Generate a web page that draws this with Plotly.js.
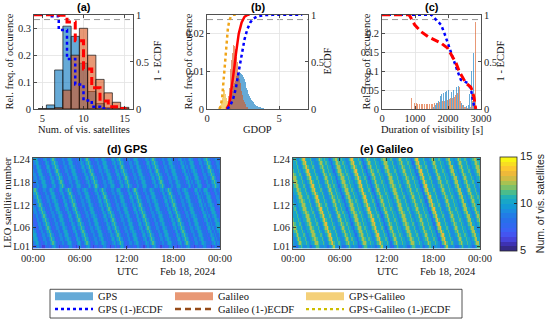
<!DOCTYPE html>
<html><head><meta charset="utf-8">
<script src="https://cdn.plot.ly/plotly-3.0.1.min.js"></script>
<style>html,body{margin:0;padding:0;background:#fff;} #chart{width:550px;height:324px;}</style>
</head><body><div id="chart"></div>
<script>
// ---------------- DATA ----------------
// (a) number of visible satellites
const nVisSat = [5,6,7,8,9,10,11,12,13,14,15];
const nVisGps = [0,0.015,0.145,0.308,0.27,0.17,0.065,0.02,0.005,0.002,0];
const nVisGal = [0,0,0.005,0.07,0.2,0.3,0.2,0.11,0.06,0.025,0.006];
const nVisEcdfGpsX = [4,6,7,8,9,10,11,12,13];
const nVisEcdfGpsY = [1,0.985,0.84,0.53,0.26,0.09,0.025,0.005,0];
const nVisEcdfGalX = [4,7,8,9,10,11,12,13,14,15];
const nVisEcdfGalY = [1,0.995,0.925,0.725,0.425,0.225,0.085,0.025,0.005,0];

// (b) GDOP
const gdopBins = [0.85,0.9,0.95,1,1.05,1.1,1.15,1.2,1.25,1.3,
  1.35,1.4,1.45,1.5,1.55,1.6,1.65,1.7,1.75,1.8,
  1.85,1.9,1.95,2,2.05,2.1,2.15,2.2,2.25,2.3,
  2.35,2.4,2.45,2.5,2.55,2.6,2.65,2.7,2.75,2.8,
  2.85,2.9,2.95,3,3.05,3.1,3.15,3.2,3.25,3.3,
  3.35,3.4,3.45,3.5,3.55,3.6,3.65,3.7,3.75,3.8,
  3.85,3.9,3.95,4,4.05,4.1,4.15,4.2,4.25,4.3,
  4.35,4.4,4.45,4.5];
const gdopGps = [0,0,0,0,0,0,0,0,0,0,
  0,0.0003,0.0006,0.001,0.0015,0.002,0.003,0.004,0.0048,0.0055,
  0.0062,0.007,0.0074,0.008,0.0087,0.0089,0.0093,0.0096,0.0099,0.0096,
  0.0095,0.0093,0.0091,0.009,0.0084,0.008,0.0071,0.0066,0.0057,0.005,
  0.0046,0.004,0.0034,0.003,0.0027,0.0024,0.002,0.0018,0.0015,0.0013,
  0.0011,0.001,0.0008,0.0007,0.0006,0.0005,0.0004,0.0004,0.0003,0.0003,
  0.0002,0.0002,0.0001,0.0001,0.0001,0.0001,0.0001,0.0001,0.0001,0.0001,
  0.0001,0.0001,0,0];
const gdopGal = [0,0,0,0,0,0,0,0,0,0,
  0.0003,0.001,0.002,0.0035,0.0055,0.008,0.0105,0.013,0.015,0.0165,
  0.017,0.0168,0.016,0.015,0.0138,0.0125,0.011,0.0095,0.008,0.0068,
  0.0057,0.0047,0.0038,0.003,0.0024,0.0018,0.0013,0.0009,0.0006,0.0004,
  0.0002,0.0001,0,0,0,0,0,0,0,0,
  0,0,0,0,0,0,0,0,0,0,
  0,0,0,0,0,0,0,0,0,0,
  0,0,0,0];
const gdopAll = [0,0.0005,0.001,0.002,0.003,0.004,0.005,0.005,0.0045,0.004,
  0.003,0.002,0.0015,0.001,0.0007,0.0004,0.0002,0.0001,0,0,
  0,0,0,0,0,0,0,0,0,0,
  0,0,0,0,0,0,0,0,0,0,
  0,0,0,0,0,0,0,0,0,0,
  0,0,0,0,0,0,0,0,0,0,
  0,0,0,0,0,0,0,0,0,0,
  0,0,0,0];
const gdopEcdfGpsX = [1.4,1.6,1.8,2.0,2.2,2.4,2.6,2.8,3.0,3.2,3.5,4.0,4.5,6.6];
const gdopEcdfGpsY = [0,0.03,0.1,0.22,0.4,0.58,0.74,0.85,0.92,0.96,0.985,0.998,1,1];
const gdopEcdfGalX = [1.35,1.5,1.6,1.7,1.8,1.9,2.0,2.1,2.2,2.4,2.6,2.8,2.95];
const gdopEcdfGalY = [0,0.04,0.1,0.2,0.32,0.45,0.58,0.7,0.8,0.92,0.98,1,1];
const gdopEcdfAllX = [0.85,0.95,1.05,1.15,1.25,1.35,1.45,1.55,1.65,1.8,2.1];
const gdopEcdfAllY = [0,0.03,0.12,0.3,0.52,0.72,0.86,0.94,0.98,1,1];

// (c) duration of visibility [s]
const durBins = [900,950,1000,1050,1100,1150,1200,1250,1300,1350,
  1400,1450,1500,1550,1600,1650,1700,1750,1800,1850,
  1900,1950,2000,2050,2100,2150,2200,2250,2300,2350,
  2400,2450,2500,2550,2600,2650,2700,2750,2800,2850];
const durGal = [0.028,0.027,0.016,0.015,0.014,0.014,0.013,0.013,0.013,0.013,
  0.013,0.013,0.014,0.014,0.015,0.016,0.017,0.018,0.019,0.02,
  0.021,0.022,0.024,0.026,0.028,0.03,0.033,0.037,0.042,0.058,
  0.02,0.01,0.006,0.004,0.003,0.003,0.004,0.02,0.06,0.232];
const durGps = [0,0,0,0,0,0,0,0,0,0,
  0,0,0.003,0.006,0.01,0.015,0.022,0.035,0.04,0.042,
  0.045,0.048,0.05,0.046,0.044,0.05,0.055,0.058,0.06,0.045,
  0.015,0.01,0.008,0.007,0.01,0.04,0.1,0.148,0.03,0];
const durEcdfGpsX = [0,1500,1640,1790,1890,1990,2090,2190,2290,2390,2490,2590,2690,2740,2790,2840];
const durEcdfGpsY = [1,1,0.947,0.894,0.806,0.70,0.61,0.505,0.40,0.31,0.29,0.276,0.22,0.13,0.03,0];
const durEcdfGalX = [0,800,840,990,1190,1390,1590,1790,1990,2140,2240,2340,2440,2540,2690,2740,2790,2820,2840];
const durEcdfGalY = [1,1,0.99,0.894,0.82,0.77,0.735,0.70,0.646,0.558,0.49,0.40,0.33,0.276,0.233,0.19,0.117,0.064,0];

// (d),(e) number of visible satellites per LEO satellite over the day (10-min steps)
const satNum = [1,2,3,4,5,6,7,8,9,10,11,12,13,14,15,16,17,18,19,20,21,22,23,24];
const satTickVals = [1,6,12,18,24];
const satTickText = ['L01','L06','L12','L18','L24'];
const timeTickVals = [0,6,12,18,24];
const timeTickText = ['00:00','06:00','12:00','18:00','00:00'];
const gpsBaseRow = [
  8,8,9,10,10,9,8,7,7,8,9,9,
  8,8,9,10,11,10,9,8,7,8,8,9,
  9,8,8,9,10,10,9,8,8,7,8,9,
  10,9,8,8,9,10,11,10,9,8,7,8,
  8,9,9,8,8,9,10,10,9,8,8,7,
  8,8,9,10,9,8,9,10,11,10,9,8,
  7,8,8,9,9,8,8,9,10,10,9,8,
  8,7,8,9,10,9,8,9,10,11,10,9,
  8,8,7,8,9,9,8,8,9,10,10,9,
  8,8,8,7,8,9,10,9,8,9,10,11,
  10,9,8,8,7,8,9,9,8,8,9,10,
  10,9,8,8,8,7,8,9,10,9,8,9];
const galBaseRow = [
  10,10,9,9,10,11,12,11,10,10,10,11,
  10,9,9,10,10,11,12,12,11,10,10,10,
  11,10,9,9,10,11,12,13,11,10,10,10,
  11,10,9,9,9,10,11,12,11,10,10,11,
  10,10,9,8,9,10,11,12,12,11,10,10,
  11,10,10,9,9,10,11,12,13,11,10,10,
  10,11,10,9,8,9,10,11,12,11,10,10,
  10,11,10,10,9,9,10,11,12,12,11,10,
  10,10,11,10,9,9,10,10,11,12,11,10,
  10,10,11,10,10,9,8,9,11,12,13,11,
  10,10,10,11,10,9,9,9,10,11,12,11,
  10,10,10,11,10,10,9,9,10,11,12,12];
const gpsSatShift = [0,1,2,3,4,5,6,7,8,9,10,11,12,13,14,15,20,21,22,23,24,25,26,27];
const galSatShift = [0,1,2,3,4,5,6,7,8,9,10,11,12,13,14,15,16,17,18,19,20,21,22,23];
const gpsSatBias = [-1,0,0,0,0,0,0,0,0,0,0,0,0,0,0,0,0,0,0,0,0,0,0,0];
const galSatBias = [-1,0,0,0,0,0,0,0,0,0,0,0,0,0,0,0,0,0,0,0,0,0,0,0];

// ---------------- STYLE ----------------
const W = 550, H = 324;
const px = v => v / W;
const py = v => 1 - v / H;
const ink = 'rgb(38,38,38)';
const serif = 'Liberation Serif';
const sans = 'Liberation Sans';
const cGps = 'rgba(0,114,189,0.6)', cGal = 'rgba(217,83,25,0.6)', cAll = 'rgba(237,177,32,0.6)';
const parulaBands = ['rgb(53,42,135)','rgb(62,50,178)','rgb(70,68,218)','rgb(68,85,240)','rgb(58,98,245)',
  'rgb(48,105,240)','rgb(40,112,234)','rgb(34,124,230)','rgb(28,140,224)','rgb(20,154,214)',
  'rgb(24,166,200)','rgb(36,177,180)','rgb(75,188,140)','rgb(125,192,105)','rgb(168,194,82)',
  'rgb(208,188,68)','rgb(238,185,58)','rgb(252,200,48)','rgb(248,222,35)','rgb(249,246,20)'];
const colorscale = [];
parulaBands.forEach((c, k) => { colorscale.push([k / 20, c]); colorscale.push([(k + 1) / 20, c]); });

function buildRows(base, shifts, bias) {
  return shifts.map((o, s) => base.map((_, t) => base[(t + o) % base.length] + bias[s]));
}
const zGps = buildRows(gpsBaseRow, gpsSatShift, gpsSatBias);
const zGal = buildRows(galBaseRow, galSatShift, galSatBias);

const axBase = {showline:true, linecolor:ink, linewidth:0.8, ticks:'inside', ticklen:3, tickcolor:ink, tickwidth:0.8,
  tickfont:{family:serif, size:10.5, color:ink}, zeroline:false, showgrid:true, gridcolor:'rgb(226,226,226)', gridwidth:0.8, fixedrange:true};
const ax = o => Object.assign({}, axBase, o);

const topY = [py(110), py(15)];
const hmY = [py(251), py(159)];

// ---------------- TRACES ----------------
const traces = [
  {type:'bar', x:nVisSat, y:nVisGps, xaxis:'x', yaxis:'y', width:1, marker:{color:cGps, line:{color:'rgb(20,20,20)', width:0.7}}, showlegend:false},
  {type:'bar', x:nVisSat, y:nVisGal, xaxis:'x', yaxis:'y', width:1, marker:{color:cGal, line:{color:'rgb(20,20,20)', width:0.7}}, showlegend:false},
  {type:'scatter', mode:'lines', x:nVisEcdfGpsX, y:nVisEcdfGpsY, xaxis:'x', yaxis:'y2', line:{color:'rgb(0,0,255)', width:2.5, dash:'dot', shape:'hv'}, showlegend:false},
  {type:'scatter', mode:'lines', x:nVisEcdfGalX, y:nVisEcdfGalY, xaxis:'x', yaxis:'y2', line:{color:'rgb(255,0,0)', width:3, dash:'8px,4px', shape:'hv'}, showlegend:false},

  {type:'bar', x:gdopBins, y:gdopAll, xaxis:'x2', yaxis:'y3', width:0.05, marker:{color:cAll, line:{width:0}}, showlegend:false},
  {type:'bar', x:gdopBins, y:gdopGps, xaxis:'x2', yaxis:'y3', width:0.05, marker:{color:cGps, line:{width:0}}, showlegend:false},
  {type:'bar', x:gdopBins, y:gdopGal, xaxis:'x2', yaxis:'y3', width:0.05, marker:{color:cGal, line:{width:0}}, showlegend:false},
  {type:'scatter', mode:'lines', x:gdopEcdfAllX, y:gdopEcdfAllY, xaxis:'x2', yaxis:'y4', line:{color:'rgb(240,165,25)', width:2.5, dash:'dot'}, showlegend:false},
  {type:'scatter', mode:'lines', x:gdopEcdfGalX, y:gdopEcdfGalY, xaxis:'x2', yaxis:'y4', line:{color:'rgb(255,0,0)', width:2.5}, showlegend:false},
  {type:'scatter', mode:'lines', x:gdopEcdfGpsX, y:gdopEcdfGpsY, xaxis:'x2', yaxis:'y4', line:{color:'rgb(0,0,255)', width:2.5, dash:'dot'}, showlegend:false},

  {type:'bar', x:durBins, y:durGal, xaxis:'x3', yaxis:'y5', width:25, offset:-25, marker:{color:cGal, line:{width:0}}, showlegend:false},
  {type:'bar', x:durBins, y:durGps, xaxis:'x3', yaxis:'y5', width:25, offset:0, marker:{color:cGps, line:{width:0}}, showlegend:false},
  {type:'scatter', mode:'lines', x:durEcdfGpsX, y:durEcdfGpsY, xaxis:'x3', yaxis:'y6', line:{color:'rgb(0,0,255)', width:2.5, dash:'dot'}, showlegend:false},
  {type:'scatter', mode:'lines', x:durEcdfGalX, y:durEcdfGalY, xaxis:'x3', yaxis:'y6', line:{color:'rgb(255,0,0)', width:3, dash:'8px,4px'}, showlegend:false},

  {type:'heatmap', z:zGps, x0:1/12, dx:1/6, y:satNum, xaxis:'x4', yaxis:'y7', zmin:5, zmax:15, colorscale:colorscale, showscale:false, hoverinfo:'skip'},
  {type:'heatmap', z:zGal, x0:1/12, dx:1/6, y:satNum, xaxis:'x5', yaxis:'y8', zmin:5, zmax:15, colorscale:colorscale, showscale:true, hoverinfo:'skip',
    colorbar:{x:px(500), xanchor:'left', xref:'paper', y:py(205.5), yanchor:'middle', yref:'paper', len:95/H, lenmode:'fraction', thickness:17, thicknessmode:'pixels',
      xpad:0, ypad:0, outlinecolor:ink, outlinewidth:0.8, ticks:'inside', ticklen:3, tickcolor:ink, tickvals:[5,10,15],
      tickfont:{family:sans, size:11, color:ink}, title:{text:'Num. of vis. satellites', side:'right', font:{family:sans, size:10.5, color:ink}}}},
];

// legend entries
const legendItems = [
  {name:'GPS', line:{color:'rgb(102,170,215)', width:8}, lg:'legend'},
  {name:'Galileo', line:{color:'rgb(232,152,117)', width:8}, lg:'legend2'},
  {name:'GPS+Galileo', line:{color:'rgb(244,208,121)', width:8}, lg:'legend3'},
  {name:'GPS (1-)ECDF', line:{color:'rgb(0,0,255)', width:2.5, dash:'dot'}, lg:'legend4'},
  {name:'Galileo (1-)ECDF', line:{color:'rgb(150,75,25)', width:2.5, dash:'6px,4px'}, lg:'legend5'},
  {name:'GPS+Galileo (1-)ECDF', line:{color:'rgb(205,190,0)', width:2.2, dash:'dot'}, lg:'legend6'},
];
legendItems.forEach(it => traces.push({type:'scatter', mode:'lines', x:[null], y:[null], xaxis:'x', yaxis:'y', name:it.name, line:it.line, legend:it.lg, showlegend:true, hoverinfo:'skip'}));

function mkLegend(x, y) {
  return {x:px(x), y:py(y), xanchor:'left', yanchor:'middle', orientation:'v', bgcolor:'rgba(0,0,0,0)', borderwidth:0,
    itemwidth:38, font:{family:serif, size:10.5, color:'rgb(20,20,20)'}, itemclick:false, itemdoubleclick:false};
}

function ann(text, x, y, opts) {
  return Object.assign({text:text, x:px(x), y:py(y), xref:'paper', yref:'paper', showarrow:false, xanchor:'center', yanchor:'middle',
    font:{family:serif, size:10.5, color:'rgb(20,20,20)'}}, opts || {});
}
const boldFont = {family:sans, size:11, color:'rgb(0,0,0)'};

const annotations = [
  ann('<b>(a)</b>', 83.5, 7, {font:boldFont}),
  ann('<b>(b)</b>', 257.5, 7, {font:boldFont}),
  ann('<b>(c)</b>', 431.5, 7, {font:boldFont}),
  ann('<b>(d) GPS</b>', 126.5, 150, {font:boldFont}),
  ann('<b>(e) Galileo</b>', 386.5, 150, {font:boldFont}),
  ann('Num. of vis. satellites', 83.5, 131),
  ann('GDOP', 257.5, 131),
  ann('Duration of visibility [s]', 431.5, 131),
  ann('Rel. freq. of occurence', 9, 62, {textangle:-90}),
  ann('Rel. freq. of occurence', 188, 62, {textangle:-90}),
  ann('Rel. freq. of occurence', 366, 62, {textangle:-90}),
  ann('1 - ECDF', 157, 62, {textangle:-90}),
  ann('ECDF', 327, 62, {textangle:-90}),
  ann('1 - ECDF', 500, 62, {textangle:-90}),
  ann('LEO satellite number', 7, 205, {textangle:-90}),
  ann('UTC', 127, 274), ann('Feb 18, 2024', 188, 274),
  ann('UTC', 387, 274), ann('Feb 18, 2024', 448, 274),
];

const refLine = (xr, yr) => ({type:'line', xref: xr + ' domain', x0:0, x1:1, yref:yr, y0:0.95, y1:0.95, layer:'below',
  line:{color:'rgb(150,150,150)', width:1, dash:'6px,4px'}});

const layout = {
  width:W, height:H, margin:{l:0, r:0, t:0, b:0}, paper_bgcolor:'#fff', plot_bgcolor:'#fff',
  barmode:'overlay', bargap:0, showlegend:true, font:{family:serif, size:10.5, color:ink},
  xaxis: ax({domain:[px(34), px(133)], range:[4,16], tickvals:[5,10,15], anchor:'y', mirror:'ticks'}),
  yaxis: ax({domain:topY, range:[0,0.35], tickvals:[0,0.1,0.2,0.3], anchor:'x'}),
  yaxis2: ax({overlaying:'y', side:'right', range:[0,1], tickvals:[0,0.5,1], anchor:'x', showgrid:false}),
  xaxis2: ax({domain:[px(207), px(308)], range:[0,7], tickvals:[0,5], anchor:'y3', mirror:'ticks'}),
  yaxis3: ax({domain:topY, range:[0,0.025], tickvals:[0,0.01,0.02], anchor:'x2'}),
  yaxis4: ax({overlaying:'y3', side:'right', range:[0,1], tickvals:[0,0.5,1], anchor:'x2', showgrid:false}),
  xaxis3: ax({domain:[px(382), px(481)], range:[0,3000], tickvals:[0,1000,2000,3000], anchor:'y5', mirror:'ticks'}),
  yaxis5: ax({domain:topY, range:[0,0.25], tickvals:[0,0.05,0.1,0.15,0.2], anchor:'x3'}),
  yaxis6: ax({overlaying:'y5', side:'right', range:[0,1], tickvals:[0,0.5,1], anchor:'x3', showgrid:false}),
  xaxis4: ax({domain:[px(33), px(220)], range:[0,24], tickvals:timeTickVals, ticktext:timeTickText, anchor:'y7', mirror:'ticks', showgrid:false}),
  yaxis7: ax({domain:hmY, range:[0.5,24.5], tickvals:satTickVals, ticktext:satTickText, anchor:'x4', mirror:'ticks', showgrid:false}),
  xaxis5: ax({domain:[px(293), px(480)], range:[0,24], tickvals:timeTickVals, ticktext:timeTickText, anchor:'y8', mirror:'ticks', showgrid:false}),
  yaxis8: ax({domain:hmY, range:[0.5,24.5], tickvals:satTickVals, ticktext:satTickText, anchor:'x5', mirror:'ticks', showgrid:false}),
  legend: mkLegend(50, 299), legend2: mkLegend(170, 299), legend3: mkLegend(301, 299),
  legend4: mkLegend(50, 312), legend5: mkLegend(170, 312), legend6: mkLegend(301, 312),
  annotations: annotations,
  shapes: [
    refLine('x', 'y2'), refLine('x2', 'y4'), refLine('x3', 'y6'),
    {type:'rect', xref:'paper', yref:'paper', x0:px(50), x1:px(462), y0:py(321), y1:py(292), line:{color:ink, width:0.8}, fillcolor:'rgba(0,0,0,0)', layer:'above'}
  ]
};

Plotly.newPlot('chart', traces, layout, {displayModeBar:false, staticPlot:true});
</script></body></html>
